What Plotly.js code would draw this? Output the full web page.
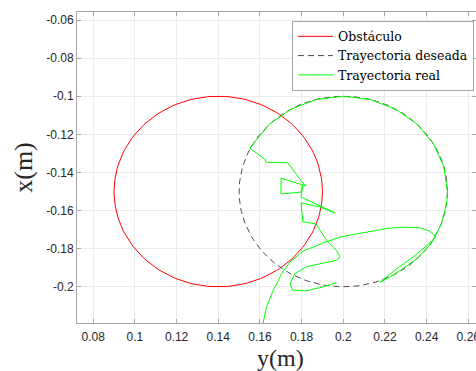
<!DOCTYPE html>
<html>
<head>
<meta charset="utf-8">
<script src="https://cdn.plot.ly/plotly-3.0.1.min.js"></script>
<style>
  html, body { margin: 0; padding: 0; background: #fff; }
  #chart { width: 476px; height: 371px; }
</style>
</head>
<body>
<div id="chart"></div>
<script>
// Obstacle and desired path: circles given by centre (y, x) and radius, in metres
const obstacleCenter = [0.14, -0.15];
const obstacleRadius = 0.05;
const desiredCenter = [0.20, -0.15];
const desiredRadius = 0.05;

// Measured robot path (y, x) in metres
const realY = [
  0.1614, 0.1632, 0.1664, 0.1704, 0.1744, 0.1808, 0.1904, 0.1984, 0.2064, 0.2144,
  0.2224, 0.2304, 0.2368, 0.2408, 0.2432, 0.2445,
  0.2400, 0.2336, 0.2256, 0.2176,
  0.2250, 0.2354, 0.2420, 0.2470, 0.2497, 0.2500, 0.2483, 0.2433, 0.2354, 0.2250,
  0.2129, 0.2000, 0.1871, 0.1750, 0.1646, 0.1567, 0.1552,
  0.1624, 0.1629, 0.1734, 0.1806, 0.1821, 0.1701, 0.1701, 0.1797, 0.1806, 0.1797,
  0.1960, 0.1888, 0.1797, 0.1806, 0.1869,
  0.1920, 0.1968, 0.1984, 0.1968, 0.1824, 0.1768, 0.1744, 0.1758, 0.1824, 0.1888, 0.1968
];
const realX = [
  -0.2195, -0.2104, -0.2018, -0.1931, -0.1870, -0.1812, -0.1770, -0.1739, -0.1722, -0.1705,
  -0.1692, -0.1687, -0.1691, -0.1705, -0.1722, -0.1739,
  -0.1785, -0.1843, -0.1905, -0.1978,
  -0.1932, -0.1853, -0.1776, -0.1672, -0.1560, -0.1500, -0.1371, -0.1250, -0.1146, -0.1067,
  -0.1017, -0.1000, -0.1017, -0.1067, -0.1146, -0.1250, -0.1273,
  -0.1331, -0.1346, -0.1349, -0.1456, -0.1471, -0.1430, -0.1513, -0.1503, -0.1466, -0.1529,
  -0.1612, -0.1581, -0.1560, -0.1659, -0.1670,
  -0.1757, -0.1809, -0.1843, -0.1861, -0.1894, -0.1931, -0.1983, -0.2018, -0.2021, -0.2004, -0.1979
];

// Axis ticks
const xTickVals = [0.08, 0.10, 0.12, 0.14, 0.16, 0.18, 0.20, 0.22, 0.24, 0.26];
const xTickText = ['0.08', '0.1', '0.12', '0.14', '0.16', '0.18', '0.2', '0.22', '0.24', '0.26'];
const yTickVals = [-0.06, -0.08, -0.10, -0.12, -0.14, -0.16, -0.18, -0.20];
const yTickText = ['-0.06', '-0.08', '-0.1', '-0.12', '-0.14', '-0.16', '-0.18', '-0.2'];

// Outline of a circle of the given centre and radius, as x/y lists for a line trace
function circleOutline(center, radius) {
  const xs = [], ys = [];
  for (let i = 0; i <= 360; i += 2) {
    const a = i * Math.PI / 180;
    xs.push(center[0] + radius * Math.cos(a));
    ys.push(center[1] + radius * Math.sin(a));
  }
  return { x: xs, y: ys };
}

const obstacle = circleOutline(obstacleCenter, obstacleRadius);
const desired = circleOutline(desiredCenter, desiredRadius);

const traces = [
  {
    type: 'scatter', mode: 'lines', x: obstacle.x, y: obstacle.y,
    name: 'Obstáculo',
    line: { color: 'rgb(255,0,0)', width: 1 }, hoverinfo: 'skip'
  },
  {
    type: 'scatter', mode: 'lines', x: desired.x, y: desired.y,
    name: 'Trayectoria deseada',
    line: { color: '#4d4d4d', width: 1, dash: '6px,4px' }, hoverinfo: 'skip'
  },
  {
    type: 'scatter', mode: 'lines', x: realY, y: realX,
    name: 'Trayectoria real',
    line: { color: 'rgb(0,255,0)', width: 1 }, hoverinfo: 'skip'
  }
];

const serif = 'Liberation Serif, Times New Roman, serif';

const axisCommon = {
  showline: true, linecolor: '#a6a6a6', linewidth: 1,
  mirror: 'ticks', ticks: 'inside', ticklen: 4, tickcolor: '#a6a6a6',
  showgrid: true, gridcolor: '#ebebeb', gridwidth: 1,
  zeroline: false,
  tickfont: { family: 'Liberation Sans, Arial, sans-serif', size: 12, color: '#262626' },
  tickmode: 'array',
  ticklabeloverflow: 'allow'
};

const layout = {
  width: 476, height: 371,
  margin: { l: 77, r: 0, t: 12, b: 48 },
  paper_bgcolor: '#fff', plot_bgcolor: '#fff',
  showlegend: true,
  xaxis: Object.assign({}, axisCommon, {
    range: [0.0722, 0.2637],
    tickvals: xTickVals, ticktext: xTickText,
    ticklabelstandoff: 3
  }),
  yaxis: Object.assign({}, axisCommon, {
    range: [-0.2190, -0.0558],
    tickvals: yTickVals, ticktext: yTickText,
    ticklabelstandoff: 0,
    title: { text: 'x(m)', standoff: 6,
      font: { family: serif, size: 26, color: '#262626' } }
  }),
  // horizontal axis label, set just under the tick labels
  annotations: [{
    text: 'y(m)', showarrow: false,
    xref: 'paper', yref: 'paper', x: 0.509, y: -0.113,
    xanchor: 'center', yanchor: 'middle',
    font: { family: serif, size: 24, color: '#262626' }
  }],
  legend: {
    x: 0.995, xanchor: 'right', y: 0.972, yanchor: 'top',
    bgcolor: '#fff', bordercolor: '#a6a6a6', borderwidth: 1,
    font: { family: 'DejaVu Serif, serif', size: 12.5, color: '#000' },
    itemwidth: 35, tracegroupgap: 0
  }
};

Plotly.newPlot('chart', traces, layout, { staticPlot: true, displayModeBar: false });
</script>
</body>
</html>
